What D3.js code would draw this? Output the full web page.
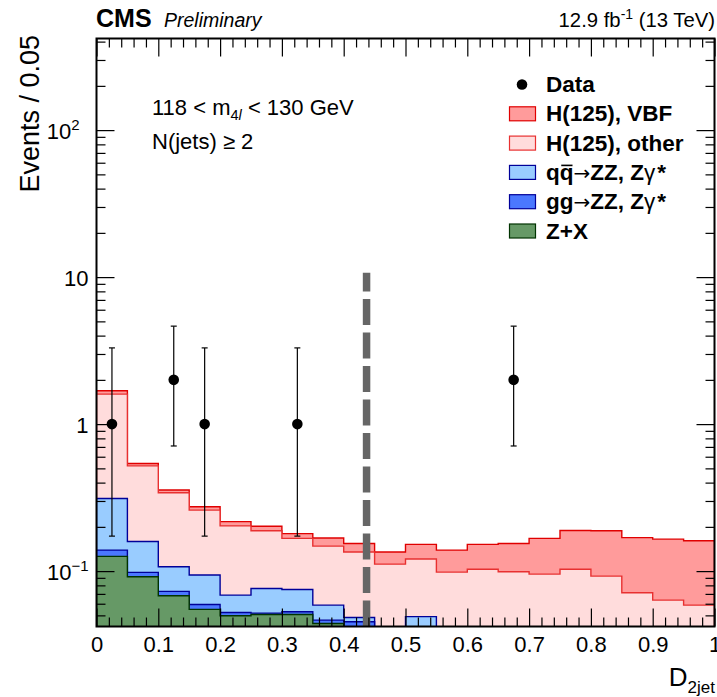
<!DOCTYPE html>
<html><head><meta charset="utf-8">
<script src="https://cdn.jsdelivr.net/npm/d3@7"></script>
<style>
body{margin:0;background:#fff}
text{font-family:"Liberation Sans",Arial,Helvetica,sans-serif}
</style>
</head><body>
<svg id="c" width="717" height="697"></svg>
<script>
// ---------------- data ----------------
const binLow = [0,0.05,0.10,0.15,0.20,0.25,0.30,0.35,0.40,0.45,0.50,0.55,0.60,0.65,0.70,0.75,0.80,0.85,0.90,0.95];
const binWidth = 0.05;
// per-process expected events per bin (stacked bottom -> top)
const zPlusX = [0.126,0.0915,0.068,0.0549,0.0497,0.0507,0.0507,0.044,0.041,0.020,0.030,0.015,0.015,0.012,0.012,0.010,0.010,0.008,0.008,0.006];
const ggZZ   = [0.013,0.0065,0.0048,0.0044,0.0026,0.0011,0.0022,0.0024,0.0042,0.003,0.004,0.002,0.002,0.002,0.002,0.002,0.002,0.002,0.002,0.002];
const qqZZ   = [0.173,0.061,0.0342,0.0347,0.0164,0.0244,0.0221,0.0123,0.0032,0.010,0.015,0.010,0.010,0.010,0.010,0.010,0.010,0.010,0.010,0.010];
const hOther = [1.288,0.361,0.234,0.166,0.1343,0.1118,0.092,0.0893,0.0866,0.0785,0.072,0.0715,0.076,0.075,0.0714,0.081,0.0705,0.0512,0.0435,0.0407];
const hVBF   = [0.085,0.020,0.015,0.014,0.014,0.014,0.013,0.020,0.019,0.0235,0.031,0.0405,0.049,0.055,0.0716,0.086,0.0955,0.0978,0.1015,0.1023];

const dataX     = [0.025,0.125,0.175,0.325,0.675];
const dataY     = [1,2,1,1,2];
const dataErrLo = [0.827,1.29,0.827,0.827,1.29];
const dataErrHi = [2.30,2.64,2.30,2.30,2.64];

const cutValue = 0.437;   // D_2jet working point
const cutTop   = 10.7;

const xTickValues = [0,0.1,0.2,0.3,0.4,0.5,0.6,0.7,0.8,0.9,1];
const xTickLabels = ["0","0.1","0.2","0.3","0.4","0.5","0.6","0.7","0.8","0.9","1"];
const yTickValues = [0.1,1,10,100];
const yTickLabels = [["10","\u22121"],["1",""],["10",""],["10","2"]];

const procKeys   = ["zx","gg","qq","hoth","vbf"];
const procLabels = ["Z+X","gg\u2192ZZ, Z\u03b3*","qq\u2192ZZ, Z\u03b3*","H(125), other","H(125), VBF"];

// ---------------- styles ----------------
const fills   = {vbf:"#ff9b9b", hoth:"#ffdcdc", qq:"#99ccff", gg:"#4b78ff", zx:"#669966"};
const strokes = {vbf:"#e00000", hoth:"#e83030", qq:"#000099", gg:"#000099", zx:"#003300"};

const L = 96.5, R = 714.5, T = 38.5, B = 626.5;

const svg = d3.select("#c");
const x = d3.scaleLinear().domain([0,1]).range([L,R]);
const y = d3.scaleLog().domain([0.042,420]).range([B,T]);

svg.append("defs").append("clipPath").attr("id","clip")
  .append("rect").attr("x",L).attr("y",T).attr("width",R-L).attr("height",B-T);

// stack
const table = binLow.map((lo,i)=>({lo, zx:zPlusX[i], gg:ggZZ[i], qq:qqZZ[i], hoth:hOther[i], vbf:hVBF[i]}));
const stacked = d3.stack().keys(procKeys)(table);

const plot = svg.append("g").attr("clip-path","url(#clip)");
const yb = y.range()[0];
function yc(v){ return v <= y.domain()[0] ? yb + 2 : y(v); }

// draw from top of stack downward so lower layers cover
stacked.slice().reverse().forEach(layer=>{
  const k = layer.key;
  let pts = [];
  layer.forEach((d,i)=>{
    const top = d[1];
    pts.push([x(table[i].lo), yc(top)]);
    pts.push([x(table[i].lo + binWidth), yc(top)]);
  });
  const body = "L" + pts.map(p=>p.join(",")).join("L") + "L" + x(1) + "," + (yb+2);
  plot.append("path").attr("d","M" + x(0) + "," + (yb+2) + body + "Z").attr("fill",fills[k]).attr("stroke","none");
  plot.append("path").attr("d","M" + x(0) + "," + (yb+2) + body).attr("fill","none").attr("stroke",strokes[k]).attr("stroke-width",1.4);
});

// cut line (drawn from bottom upwards)
plot.append("line")
  .attr("x1",x(cutValue)).attr("x2",x(cutValue))
  .attr("y1",yb).attr("y2",y(cutTop))
  .attr("stroke","#666666").attr("stroke-width",7.5)
  .attr("stroke-dasharray","26,7.5");

// data with error bars
const dg = svg.append("g");
dataX.forEach((dx,i)=>{
  const cx = x(dx);
  const y0 = y(dataY[i]-dataErrLo[i]), y1 = y(dataY[i]+dataErrHi[i]);
  dg.append("line").attr("x1",cx).attr("x2",cx).attr("y1",y0).attr("y2",y1).attr("stroke","#000").attr("stroke-width",1.2);
  dg.append("line").attr("x1",cx-3).attr("x2",cx+3).attr("y1",y0).attr("y2",y0).attr("stroke","#000").attr("stroke-width",1.2);
  dg.append("line").attr("x1",cx-3).attr("x2",cx+3).attr("y1",y1).attr("y2",y1).attr("stroke","#000").attr("stroke-width",1.2);
  dg.append("circle").attr("cx",cx).attr("cy",y(dataY[i])).attr("r",5.3).attr("fill","#000");
});

// ---------------- axes ----------------
const xMinor = d3.range(0,1.0001,0.02).filter(v=>!xTickValues.some(t=>Math.abs(t-v)<1e-6));
const yMinor = [];
[0.01,0.1,1,10,100].forEach(dec=>{ for(let m=2;m<=9;m++){ const v=m*dec; if(v>=y.domain()[0]&&v<=y.domain()[1]) yMinor.push(v);} });

function styleAxis(g){
  g.select(".domain").remove();
  g.selectAll(".tick line").attr("stroke","#000").attr("stroke-width",1.2);
  g.attr("font-family",null).attr("font-size",null);
}
// bottom
svg.append("g").attr("transform",`translate(0,${B})`)
  .call(d3.axisBottom(x).tickValues(xTickValues).tickSize(-18).tickPadding(10).tickFormat((d,i)=>xTickLabels[i]))
  .call(styleAxis)
  .selectAll("text").attr("font-size",22).attr("fill","#000");
svg.append("g").attr("transform",`translate(0,${B})`)
  .call(d3.axisBottom(x).tickValues(xMinor).tickSize(-9).tickFormat(()=>""))
  .call(styleAxis);
// top
svg.append("g").attr("transform",`translate(0,${T})`)
  .call(d3.axisTop(x).tickValues(xTickValues).tickSize(-18).tickFormat(()=>"")).call(styleAxis);
svg.append("g").attr("transform",`translate(0,${T})`)
  .call(d3.axisTop(x).tickValues(xMinor).tickSize(-9).tickFormat(()=>"")).call(styleAxis);
// left
const yl = svg.append("g").attr("transform",`translate(${L},0)`)
  .call(d3.axisLeft(y).tickValues(yTickValues).tickSize(-18).tickPadding(8).tickFormat(()=>""))
  .call(styleAxis);
yl.selectAll(".tick text").each(function(d,i){
  const t = d3.select(this).attr("font-size",22).attr("fill","#000").attr("dy","0.36em");
  const lab = yTickLabels[i];
  t.text(null);
  t.append("tspan").text(lab[0]);
  if(lab[1]) t.append("tspan").attr("font-size",15).attr("dy",-9).text(lab[1]);
  if(lab[1] && lab[1].indexOf("\u2212")<0) t.attr("dx",-9);
});
svg.append("g").attr("transform",`translate(${L},0)`)
  .call(d3.axisLeft(y).tickValues(yMinor).tickSize(-9).tickFormat(()=>"")).call(styleAxis);
// right
svg.append("g").attr("transform",`translate(${R},0)`)
  .call(d3.axisRight(y).tickValues(yTickValues).tickSize(-18).tickFormat(()=>"")).call(styleAxis);
svg.append("g").attr("transform",`translate(${R},0)`)
  .call(d3.axisRight(y).tickValues(yMinor).tickSize(-9).tickFormat(()=>"")).call(styleAxis);

// frame
svg.append("rect").attr("x",L).attr("y",T).attr("width",R-L).attr("height",B-T)
  .attr("fill","none").attr("stroke","#000").attr("stroke-width",2);

// axis titles
const xt = svg.append("text").attr("x",715).attr("y",686).attr("text-anchor","end").attr("font-size",26);
xt.append("tspan").text("D");
xt.append("tspan").attr("font-size",17).attr("dy",7).text("2jet");

svg.append("text").attr("transform","translate(39,35) rotate(-90)").attr("text-anchor","end")
  .attr("font-size",27).text("Events / 0.05");

// header
svg.append("text").attr("x",96).attr("y",27).attr("font-size",25).attr("font-weight","bold").text("CMS");
svg.append("text").attr("x",164).attr("y",27).attr("font-size",19.5).attr("font-style","italic").text("Preliminary");
const lumi = svg.append("text").attr("x",715).attr("y",27).attr("text-anchor","end").attr("font-size",20.3);
lumi.append("tspan").text("12.9 fb");
lumi.append("tspan").attr("font-size",14).attr("dy",-8).text("-1");
lumi.append("tspan").attr("dy",8).text(" (13 TeV)");

// selection text
const s1 = svg.append("text").attr("x",152).attr("y",115).attr("font-size",22);
s1.append("tspan").text("118 < m");
s1.append("tspan").attr("font-size",14.5).attr("dy",5).text("4");
s1.append("tspan").attr("font-size",14.5).attr("font-style","italic").text("l");
s1.append("tspan").attr("dy",-5).text(" < 130 GeV");
svg.append("text").attr("x",152).attr("y",149).attr("font-size",22).text("N(jets) \u2265 2");

// legend
const lg = svg.append("g");
const legRows = [
  {type:"data", label:"Data"},
  {type:"box", key:"vbf"},
  {type:"box", key:"hoth"},
  {type:"box", key:"qq"},
  {type:"box", key:"gg"},
  {type:"box", key:"zx"}
];
const arrowFont = "DejaVu Sans";
const legX = 546;
legRows.forEach((r,i)=>{
  const cy = 84.5 + i*29.3;
  if(r.type==="data"){
    lg.append("circle").attr("cx",522).attr("cy",cy).attr("r",5.3).attr("fill","#000");
  } else {
    lg.append("rect").attr("x",509.5).attr("y",cy-7).attr("width",26).attr("height",14)
      .attr("fill",fills[r.key]).attr("stroke",strokes[r.key]).attr("stroke-width",1.2);
  }
  const t = lg.append("text").attr("x",legX).attr("y",cy+7.5).attr("font-size",22.5).attr("font-weight","bold");
  const lab = r.type==="data" ? r.label : procLabels[procKeys.indexOf(r.key)];
  if(r.key==="qq" || r.key==="gg"){
    t.append("tspan").text(r.key==="qq" ? "qq" : "gg");
    t.append("tspan").attr("font-family",arrowFont).attr("font-weight","normal").attr("font-size",20).text("\u2192");
    t.append("tspan").text("ZZ, Z");
    t.append("tspan").attr("font-weight","normal").text("\u03b3");
    t.append("tspan").attr("dx",2).text("*");
    if(r.key==="qq"){
      // anti-quark bar over the second q
      const node = t.node();
      const wq = node.getSubStringLength(0,1);
      lg.append("line").attr("x1",legX + wq + 1.5).attr("x2",legX + 2*wq - 1)
        .attr("y1",cy-7).attr("y2",cy-7).attr("stroke","#000").attr("stroke-width",1.6);
    }
  } else {
    t.text(lab);
  }
});
</script>
</body></html>
